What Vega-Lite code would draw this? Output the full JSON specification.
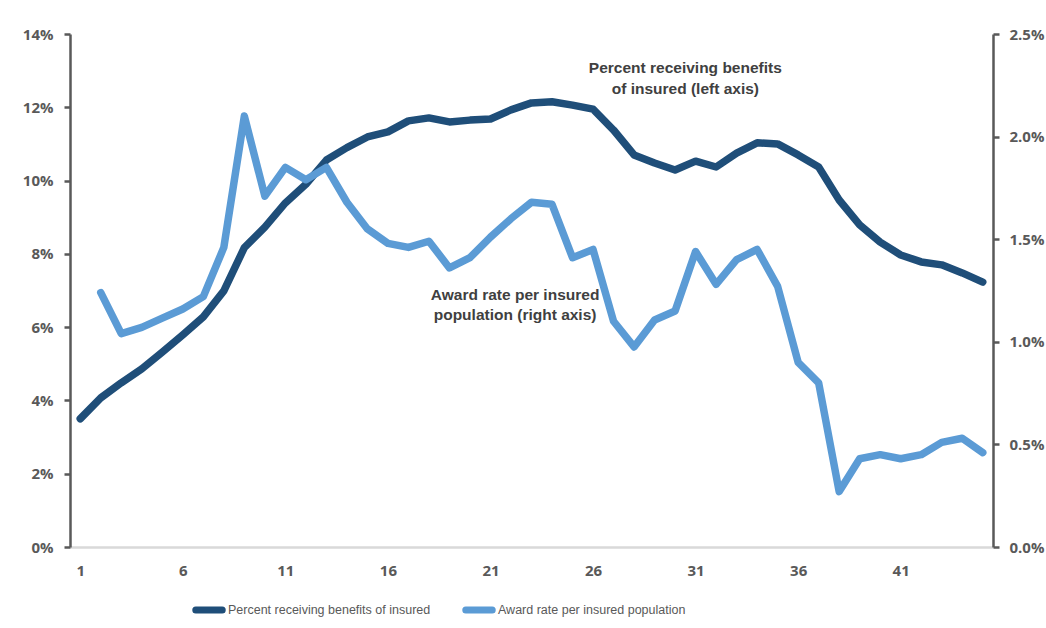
{
  "$schema": "https://vega.github.io/schema/vega-lite/v6.json",
  "width": 923,
  "height": 513,
  "autosize": {"type": "none"},
  "padding": {"left": 70, "top": 34, "right": 53, "bottom": 81},
  "background": "white",
  "config": {
    "view": {"stroke": null},
    "font": "Liberation Sans",
    "axis": {
      "grid": false,
      "title": null,
      "labelFont": "Open Sans",
      "labelFontWeight": "bold",
      "labelFontSize": 15,
      "labelColor": "#595959"
    }
  },
  "datasets": {
    "percent": [
      {"period": 1, "rate": 3.5}, {"period": 2, "rate": 4.07}, {"period": 3, "rate": 4.48}, {"period": 4, "rate": 4.86},
      {"period": 5, "rate": 5.32}, {"period": 6, "rate": 5.79}, {"period": 7, "rate": 6.28}, {"period": 8, "rate": 6.99},
      {"period": 9, "rate": 8.17}, {"period": 10, "rate": 8.73}, {"period": 11, "rate": 9.39}, {"period": 12, "rate": 9.9},
      {"period": 13, "rate": 10.56}, {"period": 14, "rate": 10.9}, {"period": 15, "rate": 11.19}, {"period": 16, "rate": 11.33},
      {"period": 17, "rate": 11.63}, {"period": 18, "rate": 11.71}, {"period": 19, "rate": 11.6}, {"period": 20, "rate": 11.65},
      {"period": 21, "rate": 11.68}, {"period": 22, "rate": 11.93}, {"period": 23, "rate": 12.12}, {"period": 24, "rate": 12.15},
      {"period": 25, "rate": 12.06}, {"period": 26, "rate": 11.95}, {"period": 27, "rate": 11.38}, {"period": 28, "rate": 10.7},
      {"period": 29, "rate": 10.48}, {"period": 30, "rate": 10.29}, {"period": 31, "rate": 10.53}, {"period": 32, "rate": 10.37},
      {"period": 33, "rate": 10.75}, {"period": 34, "rate": 11.03}, {"period": 35, "rate": 11.0}, {"period": 36, "rate": 10.7},
      {"period": 37, "rate": 10.37}, {"period": 38, "rate": 9.47}, {"period": 39, "rate": 8.79}, {"period": 40, "rate": 8.32},
      {"period": 41, "rate": 7.97}, {"period": 42, "rate": 7.78}, {"period": 43, "rate": 7.7}, {"period": 44, "rate": 7.48},
      {"period": 45, "rate": 7.23}
    ],
    "award": [
      {"period": 2, "rate": 1.24}, {"period": 3, "rate": 1.04}, {"period": 4, "rate": 1.07}, {"period": 5, "rate": 1.115},
      {"period": 6, "rate": 1.16}, {"period": 7, "rate": 1.22}, {"period": 8, "rate": 1.46}, {"period": 9, "rate": 2.1},
      {"period": 10, "rate": 1.71}, {"period": 11, "rate": 1.85}, {"period": 12, "rate": 1.79}, {"period": 13, "rate": 1.85},
      {"period": 14, "rate": 1.68}, {"period": 15, "rate": 1.55}, {"period": 16, "rate": 1.48}, {"period": 17, "rate": 1.46},
      {"period": 18, "rate": 1.49}, {"period": 19, "rate": 1.36}, {"period": 20, "rate": 1.41}, {"period": 21, "rate": 1.51},
      {"period": 22, "rate": 1.6}, {"period": 23, "rate": 1.68}, {"period": 24, "rate": 1.67}, {"period": 25, "rate": 1.41},
      {"period": 26, "rate": 1.45}, {"period": 27, "rate": 1.1}, {"period": 28, "rate": 0.975}, {"period": 29, "rate": 1.106},
      {"period": 30, "rate": 1.15}, {"period": 31, "rate": 1.44}, {"period": 32, "rate": 1.28}, {"period": 33, "rate": 1.4},
      {"period": 34, "rate": 1.45}, {"period": 35, "rate": 1.27}, {"period": 36, "rate": 0.9}, {"period": 37, "rate": 0.8},
      {"period": 38, "rate": 0.27}, {"period": 39, "rate": 0.43}, {"period": 40, "rate": 0.45}, {"period": 41, "rate": 0.43},
      {"period": 42, "rate": 0.45}, {"period": 43, "rate": 0.51}, {"period": 44, "rate": 0.53}, {"period": 45, "rate": 0.46}
    ]
  },
  "layer": [
    {
      "data": {"name": "percent"},
      "mark": {"type": "line", "strokeWidth": 7.5, "strokeCap": "round", "strokeJoin": "round"},
      "encoding": {
        "x": {
          "field": "period",
          "type": "quantitative",
          "scale": {"domain": [0.5, 45.5], "nice": false, "zero": false},
          "axis": {
            "values": [1, 6, 11, 16, 21, 26, 31, 36, 41],
            "domainColor": "#d9d9d9",
            "domainWidth": 2.5,
            "ticks": false,
            "labelPadding": 16
          }
        },
        "y": {
          "field": "rate",
          "type": "quantitative",
          "scale": {"domain": [0, 14], "nice": false},
          "axis": {
            "orient": "left",
            "values": [0, 2, 4, 6, 8, 10, 12, 14],
            "labelExpr": "datum.value + '%'",
            "domainColor": "#595959",
            "domainWidth": 2.5,
            "tickColor": "#595959",
            "tickWidth": 2.5,
            "tickSize": 6,
            "labelPadding": 11
          }
        },
        "color": {
          "datum": "Percent receiving benefits of insured",
          "type": "nominal",
          "scale": {
            "domain": ["Percent receiving benefits of insured", "Award rate per insured population"],
            "range": ["#1f4e79", "#5b9bd5"]
          },
          "legend": {
            "title": null,
            "orient": "none",
            "legendX": 122,
            "legendY": 559,
            "direction": "horizontal",
            "symbolType": "stroke",
            "symbolStrokeWidth": 7,
            "symbolSize": 700,
            "labelFont": "Liberation Sans",
            "labelFontSize": 12.5,
            "labelLimit": 400,
            "labelColor": "#595959",
            "labelOffset": 2,
            "columnPadding": 20,
            "encode": {"symbols": {"update": {"strokeCap": {"value": "round"}}}}
          }
        }
      }
    },
    {
      "data": {"name": "award"},
      "mark": {"type": "line", "strokeWidth": 7.5, "strokeCap": "round", "strokeJoin": "round"},
      "encoding": {
        "x": {"field": "period", "type": "quantitative"},
        "y": {
          "field": "rate",
          "type": "quantitative",
          "scale": {"domain": [0, 2.5], "nice": false},
          "axis": {
            "orient": "right",
            "values": [0, 0.5, 1, 1.5, 2, 2.5],
            "labelExpr": "format(datum.value, '.1f') + '%'",
            "domainColor": "#595959",
            "domainWidth": 2.5,
            "tickColor": "#595959",
            "tickWidth": 2.5,
            "tickSize": 6,
            "labelPadding": 10
          }
        },
        "color": {
          "datum": "Award rate per insured population",
          "type": "nominal"
        }
      }
    },
    {
      "data": {"values": [{"note": "left"}]},
      "mark": {"type": "text", "align": "center", "baseline": "middle", "font": "Liberation Sans", "fontSize": 15.5, "fontWeight": "bold", "color": "#404040", "lineHeight": 20.5},
      "encoding": {
        "x": {"datum": 30.5, "type": "quantitative"},
        "y": {"datum": 13.07, "type": "quantitative", "scale": {"domain": [0, 14], "nice": false}, "axis": null},
        "text": {"value": ["Percent receiving  benefits", "of insured  (left axis)"]}
      }
    },
    {
      "data": {"values": [{"note": "right"}]},
      "mark": {"type": "text", "align": "center", "baseline": "middle", "font": "Liberation Sans", "fontSize": 15.5, "fontWeight": "bold", "color": "#404040", "lineHeight": 20.5},
      "encoding": {
        "x": {"datum": 22.2, "type": "quantitative"},
        "y": {"datum": 6.88, "type": "quantitative", "scale": {"domain": [0, 14], "nice": false}, "axis": null},
        "text": {"value": ["Award rate per insured", "population (right axis)"]}
      }
    }
  ],
  "resolve": {"scale": {"y": "independent"}}
}
